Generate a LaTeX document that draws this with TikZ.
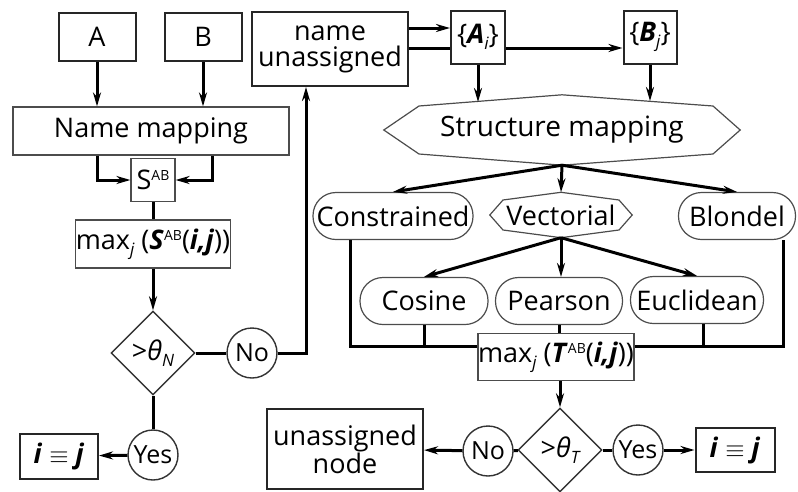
\documentclass[tikz,border=0pt]{standalone}
\usepackage{fontspec}
\setmainfont{Open Sans}
\usetikzlibrary{shapes.geometric,arrows.meta}
\newcommand\supab[1]{\raisebox{9pt}{\fontsize{14}{14}\selectfont #1}}
\newcommand\subj[1]{\raisebox{-6pt}{\fontsize{17}{17}\selectfont\itshape #1}}

\begin{document}
\begin{tikzpicture}[x=1pt,y=-1pt,
  font=\fontsize{27}{26}\selectfont,
  box/.style={draw=black!85,line width=2pt,inner sep=0pt},
  thinbox/.style={draw=black!70,line width=1.2pt,inner sep=0pt},
  pill/.style={thinbox,rounded corners=23pt,minimum height=47},
  decide/.style={diamond,aspect=1,draw=black!80,line width=1.4pt,inner sep=0pt,minimum size=84},
  answer/.style={circle,draw=black!80,line width=1.4pt,inner sep=0pt,minimum size=50,font=\fontsize{25}{25}\selectfont},
  link/.style={line width=3pt},
  arr/.style={link,-{Stealth[length=14pt,width=8pt]}}]
\useasboundingbox (0,0) rectangle (798,491);

\node[box,minimum width=77,minimum height=48] (A) at (97,37) {A};
\node[box,minimum width=77,minimum height=48] (B) at (203,37) {B};
\node[thinbox,minimum width=276,minimum height=48] (nmap) at (151,131) {Name mapping};
\node[thinbox,minimum width=44,minimum height=43] (sab) at (153,180) {S\supab{AB}};
\node[thinbox,minimum width=151,minimum height=48] (maxs) at (153,244) {max\subj{j} (\textbf{\textit{S}}\supab{AB}(\textbf{\textit{i,j}}))};
\node[decide] (dn) at (153,353) {>\textit{θ}\subj{N}};
\node[answer] (non) at (252,353) {No};
\node[answer] (yesn) at (153,455) {Yes};
\node[box,minimum width=78,minimum height=45] (ijl) at (59,456) {\textbf{\textit{i}} $\equiv$ \textbf{\textit{j}}};

\node[box,minimum width=156,minimum height=74,align=center] (nun) at (330,49) {name\\unassigned};
\node[box,fill=white,minimum width=54,minimum height=53] (ai) at (478,37) {\{\textbf{\textit{A}}\subj{i}\}};
\node[box,minimum width=53,minimum height=53] (bj) at (650,37) {\{\textbf{\textit{B}}\subj{j}\}};

\node[minimum width=356,minimum height=70,font=\fontsize{28}{28}\selectfont] (smap) at (562,130) {Structure mapping};
\draw[draw=black!70,line width=1.2pt] (smap.west) -- (419,106) -- (smap.north) -- (713,106) -- (smap.east) -- (713,154) -- (smap.south) -- (419,154) -- cycle;
\coordinate (smapa) at (478,102);
\coordinate (smapb) at (650,101);

\node[pill,minimum width=160] (cons) at (393,216) {Constrained};
\node[minimum width=142,minimum height=45] (vect) at (561,215) {Vectorial};
\draw[draw=black!70,line width=1.2pt] (vect.west) -- (503,200) -- (vect.north) -- (619,200) -- (vect.east) -- (619,230) -- (vect.south) -- (503,230) -- cycle;
\node[pill,minimum width=117] (blon) at (737,216) {Blondel};
\node[pill,minimum width=128] (cos) at (424,301) {Cosine};
\node[pill,minimum width=127] (pear) at (559,301) {Pearson};
\node[pill,minimum width=133] (eucl) at (697,300) {Euclidean};
\node[thinbox,fill=white,minimum width=151,minimum height=47] (maxt) at (556,357) {max\subj{j} (\textbf{\textit{T}}\supab{AB}(\textbf{\textit{i,j}}))};
\coordinate (bar) at ([yshift=11]maxt.west);

\node[decide] (dt) at (560,450) {>\textit{θ}\subj{T}};
\node[answer] (not) at (488,451) {No};
\node[answer] (yest) at (638,450) {Yes};
\node[box,minimum width=79,minimum height=44] (ijr) at (735,450) {\textbf{\textit{i}} $\equiv$ \textbf{\textit{j}}};
\node[box,minimum width=156,minimum height=80,align=center] (una) at (345,449) {unassigned\\node};

\draw[arr] (A) -- (A |- nmap.north);
\draw[arr] (B) -- (B |- nmap.north);
\draw[arr] (nmap.south -| A) |- (sab.west);
\draw[arr] ([xshift=9]nmap.south -| B) |- (sab.east);
\draw[link] (sab) -- (sab |- maxs.north);
\draw[arr] (maxs) -- (dn);
\draw[link] (dn) -- (non);
\draw[arr] (non) -| ([xshift=-24]nun.south);
\draw[link] (dn) -- (yesn);
\draw[arr] (yesn) -- (ijl);

\draw[arr] ([yshift=9]ai.west -| nun.east) -- ([yshift=9]ai.west);
\draw[link] ([yshift=-11]ai.west -| nun.east) -- ([yshift=-11]ai.west);
\draw[arr] ([yshift=-11]ai.east) -- ([yshift=-11]bj.west);
\draw[arr] (ai) -- (smapa);
\draw[arr] (bj) -- (smapb);

\draw[arr] (smap.south) -- (cons.north);
\draw[arr] (smap.south) -- (vect.north);
\draw[arr] (smap.south) -- (blon.north);
\draw[arr] (vect.south) -- (cos.north);
\draw[arr] (vect.south) -- (vect.south |- pear.north);
\draw[arr] (vect.south) -- (eucl.north);

\draw[link] ([xshift=-43]cons.south) |- (bar);
\draw[link] ([xshift=46]blon.south) |- (bar -| maxt.east);
\draw[link] (cos) -- (cos |- bar);
\draw[link] ([xshift=6]eucl.south) -- ([xshift=6]eucl.south |- bar);
\draw[link] (pear) -- (pear |- maxt.north);
\draw[arr] (maxt.south -| dt) -- (dt);
\draw[link] (dt) -- (not);
\draw[arr] (not) -- (una);
\draw[link] (dt) -- (yest);
\draw[arr] (yest) -- (ijr);
\end{tikzpicture}
\end{document}
